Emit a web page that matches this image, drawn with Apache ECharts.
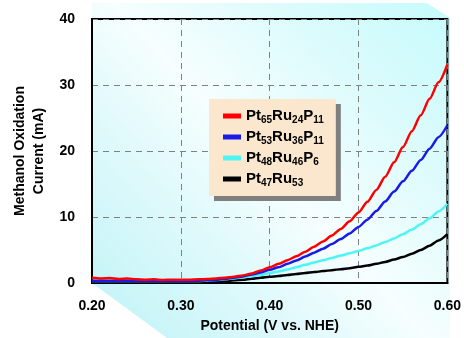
<!DOCTYPE html>
<html>
<head>
<meta charset="utf-8">
<style>
  html, body { margin: 0; padding: 0; background: #ffffff; }
  #chart { width: 464px; height: 338px; }
</style>
<script src="https://cdn.jsdelivr.net/npm/echarts@6/dist/echarts.min.js"></script>
</head>
<body>
<div id="chart"></div>
<script>
// Potential sweep (V vs. NHE)
const potential = [0.20, 0.21, 0.22, 0.23, 0.24, 0.25, 0.26, 0.27, 0.28, 0.29,
                   0.30, 0.31, 0.32, 0.33, 0.34, 0.35, 0.36, 0.37, 0.38, 0.39,
                   0.40, 0.41, 0.42, 0.43, 0.44, 0.45, 0.46, 0.47, 0.48, 0.49,
                   0.50, 0.51, 0.52, 0.53, 0.54, 0.55, 0.56, 0.57, 0.58, 0.59, 0.60];

// Methanol oxidation current (mA) for each catalyst
const ptRuP_65_24_11 = [0.8, 0.7, 0.75, 0.6, 0.7, 0.55, 0.5, 0.55, 0.45, 0.5,
                        0.5, 0.5, 0.55, 0.6, 0.7, 0.8, 0.95, 1.15, 1.45, 1.9,
                        2.4, 2.9, 3.45, 4.05, 4.75, 5.5, 6.3, 7.2, 8.2, 9.35,
                        10.7, 12.3, 14.1, 16.1, 18.3, 20.6, 23.0, 25.4, 27.9, 30.4, 33.1];
const ptRuP_53_36_11 = [0.35, 0.3, 0.3, 0.3, 0.3, 0.3, 0.3, 0.3, 0.3, 0.3,
                        0.3, 0.3, 0.35, 0.4, 0.5, 0.65, 0.8, 1.0, 1.3, 1.6,
                        2.0, 2.4, 2.9, 3.4, 4.0, 4.6, 5.2, 5.9, 6.65, 7.5,
                        8.5, 9.6, 10.9, 12.35, 13.85, 15.4, 17.0, 18.65, 20.35, 22.1, 23.9];
const ptRuP_48_46_6 = [0.3, 0.3, 0.3, 0.3, 0.3, 0.3, 0.3, 0.3, 0.3, 0.3,
                       0.3, 0.3, 0.3, 0.35, 0.45, 0.55, 0.7, 0.85, 1.05, 1.25,
                       1.5, 1.75, 2.05, 2.4, 2.75, 3.1, 3.45, 3.8, 4.15, 4.5,
                       4.85, 5.25, 5.7, 6.2, 6.75, 7.4, 8.1, 8.9, 9.8, 10.85, 12.0];
const ptRu_47_53 = [0.3, 0.3, 0.3, 0.3, 0.3, 0.3, 0.3, 0.3, 0.3, 0.3,
                    0.3, 0.3, 0.3, 0.3, 0.3, 0.3, 0.4, 0.5, 0.65, 0.8,
                    0.95, 1.05, 1.2, 1.35, 1.5, 1.65, 1.8, 1.95, 2.1, 2.25,
                    2.45, 2.65, 2.9, 3.2, 3.55, 3.95, 4.45, 5.0, 5.65, 6.45, 7.4];

// Legend labels as [element, subscript] pairs
const legendNames = ['Pt65Ru24P11', 'Pt53Ru36P11', 'Pt48Ru46P6', 'Pt47Ru53'];
const legendParts = {
  'Pt65Ru24P11': [['Pt', '65'], ['Ru', '24'], ['P', '11']],
  'Pt53Ru36P11': [['Pt', '53'], ['Ru', '36'], ['P', '11']],
  'Pt48Ru46P6':  [['Pt', '48'], ['Ru', '46'], ['P', '6']],
  'Pt47Ru53':    [['Pt', '47'], ['Ru', '53']]
};
const xTicks = [0.2, 0.6, 0.1];   // min, max, interval
const yTicks = [0, 40, 10];

const FONT = '"Liberation Sans", Arial, sans-serif';

function pairs(ys) { return potential.map((x, i) => [x, ys[i]]); }

const chart = echarts.init(document.getElementById('chart'), null, { renderer: 'canvas' });

function lineSeries(name, data, color) {
  return {
    name: name, type: 'line', data: pairs(data), showSymbol: false,
    smooth: 0.25, smoothMonotone: 'x',
    lineStyle: { color: color, width: 2.5 }, itemStyle: { color: color },
    emphasis: { disabled: true }, animation: false
  };
}

const bgFill = new echarts.graphic.LinearGradient(92, 338, 450, 3, [
  { offset: 0, color: '#bff3f7' },
  { offset: 0.3, color: '#def9fb' },
  { offset: 0.5, color: '#f6fefe' },
  { offset: 0.75, color: '#dcfbfc' },
  { offset: 1, color: '#c6fbfc' }
], true);

chart.setOption({
  animation: false,
  backgroundColor: '#ffffff',
  graphic: [{
    type: 'polygon', z: -10, silent: true,
    shape: { points: [[92, 3], [427, 3], [450, 18], [450, 338], [167, 338], [92, 283]] },
    style: { fill: bgFill }
  }],
  grid: {
    left: 92, right: 16, top: 19, bottom: 55,
    show: true, borderColor: '#000', borderWidth: 2, backgroundColor: 'transparent'
  },
  legend: {
    data: legendNames,
    orient: 'vertical',
    left: 209, top: 99,
    padding: [8, 12, 8, 14],
    itemGap: 3,
    itemWidth: 18, itemHeight: 5,
    icon: 'rect',
    backgroundColor: '#fbe7cd',
    shadowColor: '#7f7f7f', shadowBlur: 0, shadowOffsetX: 5, shadowOffsetY: 5,
    selectedMode: false,
    formatter: function (name) {
      return legendParts[name].map(p => '{m|' + p[0] + '}{s|' + p[1] + '}').join('');
    },
    textStyle: {
      rich: {
        m: { fontFamily: FONT, fontWeight: 'bold', fontSize: 15, color: '#000', lineHeight: 18 },
        s: { fontFamily: FONT, fontWeight: 'bold', fontSize: 10, color: '#000', lineHeight: 18,
             padding: [8, 0, 0, 0] }
      }
    }
  },
  xAxis: {
    type: 'value', min: xTicks[0], max: xTicks[1], interval: xTicks[2],
    name: 'Potential (V vs. NHE)', nameLocation: 'middle', nameGap: 36,
    nameTextStyle: { fontFamily: FONT, fontWeight: 'bold', fontSize: 14, color: '#000' },
    axisLine: { show: true, lineStyle: { color: '#000', width: 2 } },
    axisTick: { show: false },
    axisLabel: { margin: 16, fontFamily: FONT, fontWeight: 'bold', fontSize: 14, color: '#000',
                 formatter: v => v.toFixed(2) },
    splitLine: { show: true, lineStyle: { color: '#808080', type: [6, 5], width: 1 } }
  },
  yAxis: {
    type: 'value', min: yTicks[0], max: yTicks[1], interval: yTicks[2],
    name: 'Methanol Oxidation\nCurrent (mA)', nameLocation: 'middle', nameGap: 42, nameRotate: 90,
    nameTextStyle: { fontFamily: FONT, fontWeight: 'bold', fontSize: 14, color: '#000', lineHeight: 19 },
    axisLine: { show: true, lineStyle: { color: '#000', width: 2 } },
    axisTick: { show: false },
    axisLabel: { margin: 17, fontFamily: FONT, fontWeight: 'bold', fontSize: 14, color: '#000' },
    splitLine: { show: true, lineStyle: { color: '#808080', type: [6, 5], width: 1 } }
  },
  series: [
    lineSeries('Pt47Ru53', ptRu_47_53, '#000000'),
    lineSeries('Pt48Ru46P6', ptRuP_48_46_6, '#4ff5f5'),
    lineSeries('Pt53Ru36P11', ptRuP_53_36_11, '#1a1ae6'),
    lineSeries('Pt65Ru24P11', ptRuP_65_24_11, '#ff0000')
  ]
});
</script>
</body>
</html>
